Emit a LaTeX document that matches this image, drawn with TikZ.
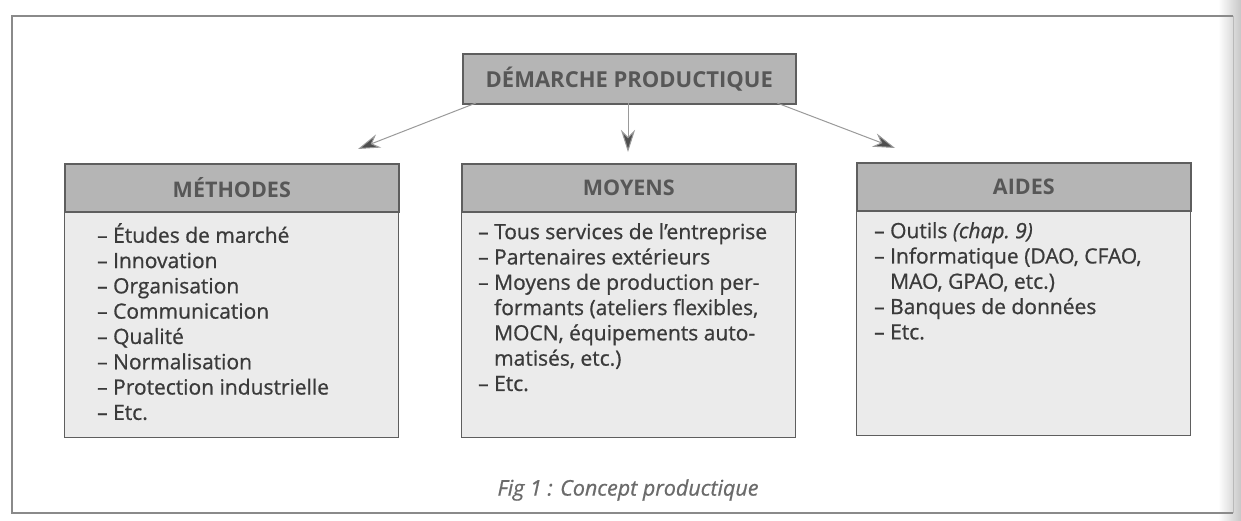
\documentclass[tikz,border=0pt]{standalone}
\usepackage{fontspec}
\setmainfont{Open Sans}
\newfontfamily\listfont{Open Sans}[RawFeature={embolden=0.8}]
\usetikzlibrary{arrows.meta}
\definecolor{frameC}{HTML}{8A8A8A}
\definecolor{headC}{HTML}{B5B5B5}
\definecolor{bodyC}{HTML}{EBEBEB}
\definecolor{edgeC}{HTML}{5E5E5E}
\definecolor{txtC}{HTML}{3A3A3A}
\definecolor{arrC}{HTML}{9A9A9A}
\begin{document}
\begin{tikzpicture}[x=1pt,y=-1pt,
  headbox/.style={draw=edgeC,line width=1.6pt,fill=headC,minimum width=334pt,minimum height=48pt,inner sep=0pt,
    font=\fontsize{21.5}{24}\selectfont\bfseries,text=txtC!85!white,anchor=north west},
  bodybox/.style={draw=edgeC,line width=1.4pt,fill=bodyC,minimum width=334pt,inner sep=0pt,anchor=north west},
  listtext/.style={align=left,anchor=north west,inner sep=0pt,text=txtC,font=\listfont\fontsize{21}{25.3}\selectfont},
  conn/.style={draw=arrC,line width=1pt,-{Stealth[length=22pt,width=14pt,inset=7pt,fill=txtC!90!white]}}
]
\useasboundingbox (0,0) rectangle (1241,521);
\fill[white] (0,0) rectangle (1241,521);
% scan shadow on right edge
\shade[left color=white,right color=black!22] (1218,0) rectangle (1241,521);
% outer frame
\draw[frameC,line width=1.8pt] (1233,16) -- (12,16) -- (12,513) -- (1233,513);
\draw[frameC!60!white,line width=1pt] (1233,16) -- (1233,513);

% top node
\node[headbox,minimum width=333pt,minimum height=50pt,font=\fontsize{22}{24}\selectfont\bfseries] (top) at (462,53) {DÉMARCHE PRODUCTIQUE};

% boxes
\node[bodybox,minimum height=226pt] (methb) at (64,211) {};
\node[headbox] (meth) at (64,163) {MÉTHODES};
\node[bodybox,minimum height=226pt] (moyb) at (461,211) {};
\node[headbox] (moy) at (461,163) {MOYENS};
\node[bodybox,minimum height=225pt] (aidb) at (856,210) {};
\node[headbox] (aid) at (856,162) {AIDES};

% lists
\node[listtext] (methl) at (97,223) {– Études de marché\\– Innovation\\– Organisation\\– Communication\\– Qualité\\– Normalisation\\– Protection industrielle\\– Etc.};
\node[listtext] (moyl) at (478,223) {– Tous services de l’entreprise\\– Partenaires extérieurs\\– Moyens de production per-\\\phantom{– }formants (ateliers flexibles,\\\phantom{– }MOCN, équipements auto-\\\phantom{– }matisés, etc.)\\– Etc.};
\node[listtext] (aidl) at (874,222) {– Outils \textit{(chap.~9)}\\– Informatique (DAO, CFAO,\\\phantom{– }MAO, GPAO, etc.)\\– Banques de données\\– Etc.};

% arrow tips
\coordinate (tl) at (358,149);
\coordinate (tm) at (628,152);
\coordinate (tr) at (895,148);
\coordinate (sl) at (476,103);
\coordinate (sm) at (628,103);
\coordinate (sr) at (777,103);
\draw[conn] (sl) -- (tl);
\draw[conn] (sm) -- (tm);
\draw[conn] (sr) -- (tr);

% caption
\node[text=txtC!75!white,font=\listfont\fontsize{21.5}{24}\selectfont\itshape] (cap) at (628,490) {Fig 1 : Concept productique};
\end{tikzpicture}
\end{document}
